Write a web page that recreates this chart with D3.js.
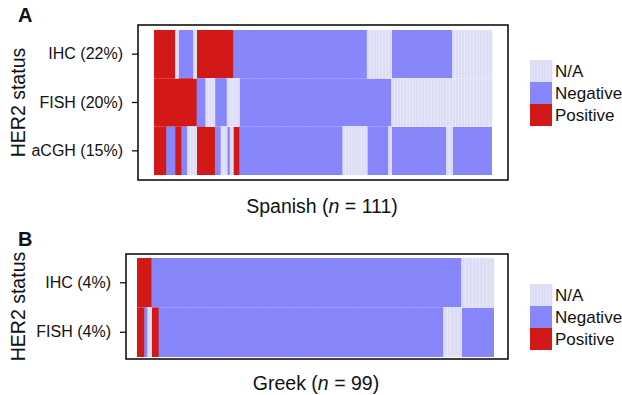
<!DOCTYPE html>
<html>
<head>
<meta charset="utf-8">
<script src="https://cdn.jsdelivr.net/npm/d3@7"></script>
<style>
  body { margin: 0; background: #fff; }
  svg { display: block; }
  text { font-family: "Liberation Sans", Arial, Helvetica, sans-serif; }
</style>
</head>
<body>
<svg id="chart" width="622" height="395"></svg>
<script>
// ---- Data (run-length encoded per sample column; P = Positive, N = Negative, U = N/A) ----
const statusKeys = ["U", "N", "P"];
const legendLabels = ["N/A", "Negative", "Positive"];
const statusColors = ["#dcdcf5", "#8787fb", "#d31818"];

// Panel A: Spanish cohort (n = 111)
const spanishRows = ["IHC", "FISH", "aCGH"];
const spanishTickLabels = ["IHC (22%)", "FISH (20%)", "aCGH (15%)"];
const spanishIHC = [["P",7],["U",1],["N",5],["U",1],["P",12],["N",44],["U",8],["N",20],["U",13]];
const spanishFISH = [["P",14],["N",3],["U",3],["N",4],["U",4],["N",50],["U",33]];
const spanishACGH = [["P",4],["N",3],["P",2],["N",2],["U",3],["P",6],["N",2],["U",2],["N",1],["U",1],["P",2],["N",34],["U",8],["N",7],["U",1],["N",18],["U",2],["N",13]];

// Panel B: Greek cohort (n = 99)
const greekRows = ["IHC", "FISH"];
const greekTickLabels = ["IHC (4%)", "FISH (4%)"];
const greekIHC = [["P",4],["N",86],["U",9]];
const greekFISH = [["P",2],["N",1],["U",1],["P",2],["N",79],["U",5],["N",9]];

// ---- Helpers ----
function expand(runs) {
  const out = [];
  runs.forEach(([code, count]) => { for (let i = 0; i < count; i++) out.push(code); });
  return out;
}

const svg = d3.select("#chart");
const color = d3.scaleOrdinal().domain(statusKeys).range(statusColors);

function panel(cfg) {
  const g = svg.append("g");
  const nCols = cfg.rowsData[0].length;
  const x = d3.scaleBand().domain(d3.range(nCols)).range([cfg.cellX0, cfg.cellX1]).padding(0);
  const y = d3.scaleBand().domain(cfg.rows).range([cfg.cellY0, cfg.cellY1]).padding(0);

  const cells = [];
  cfg.rows.forEach((r, ri) => {
    cfg.rowsData[ri].forEach((code, ci) => cells.push({ row: r, col: ci, code }));
  });

  // solid cells first (slightly widened to avoid seams), N/A cells on top with faint stripes
  const ordered = cells.filter(d => d.code !== "U").concat(cells.filter(d => d.code === "U"));
  g.selectAll("rect.cell").data(ordered).enter().append("rect")
    .attr("class", "cell")
    .attr("x", d => x(d.col))
    .attr("y", d => y(d.row))
    .attr("width", d => d.code === "U" ? x.bandwidth()
      : Math.min(x.bandwidth() + 0.8, cfg.cellX1 - x(d.col)))
    .attr("height", y.bandwidth())
    .attr("fill", d => color(d.code))
    .attr("stroke", d => d.code === "U" ? "#ebebfb" : "none")
    .attr("stroke-width", 0.6);

  // frame
  g.append("rect")
    .attr("x", cfg.boxX0).attr("y", cfg.boxY0)
    .attr("width", cfg.boxX1 - cfg.boxX0).attr("height", cfg.boxY1 - cfg.boxY0)
    .attr("fill", "none").attr("stroke", "#111").attr("stroke-width", 1.6);

  // y axis
  const axis = d3.axisLeft(y).tickSize(6).tickPadding(9)
    .tickFormat((d, i) => cfg.tickLabels[i]);
  const ax = g.append("g").attr("transform", `translate(${cfg.boxX0},0)`).call(axis);
  ax.select(".domain").remove();
  ax.selectAll(".tick line").attr("stroke", "#111").attr("stroke-width", 1.3);
  ax.selectAll(".tick text").attr("font-size", 16).attr("fill", "#111")
    .style("font-family", '"Liberation Sans", Arial, sans-serif');

  // panel letter
  g.append("text").attr("x", 18).attr("y", cfg.letterY)
    .attr("font-size", 20).attr("font-weight", "bold").attr("fill", "#111").text(cfg.letter);

  // y title
  g.append("text")
    .attr("transform", `translate(${25},${(cfg.boxY0 + cfg.boxY1) / 2}) rotate(-90)`)
    .attr("text-anchor", "middle").attr("font-size", 19.5).attr("fill", "#111")
    .text("HER2 status");

  // x title with italic n
  const xt = g.append("text")
    .attr("x", (cfg.boxX0 + cfg.boxX1) / 2 + cfg.titleDx).attr("y", cfg.titleY)
    .attr("text-anchor", "middle").attr("font-size", 19.5).attr("fill", "#111");
  xt.append("tspan").text(cfg.cohort + " (");
  xt.append("tspan").attr("font-style", "italic").text("n");
  xt.append("tspan").text(" = " + cfg.n + ")");

  // legend
  const lg = g.append("g");
  const sw = 22, sh = 22;
  lg.selectAll("rect").data(statusKeys).enter().append("rect")
    .attr("x", cfg.legX).attr("y", (d, i) => cfg.legY + i * sh)
    .attr("width", sw).attr("height", sh)
    .attr("fill", d => color(d))
    .attr("stroke", "none");
  // stripes on N/A swatch
  lg.selectAll("line.stripe").data(d3.range(0, sw, 3)).enter().append("line")
    .attr("x1", d => cfg.legX + d + 1.5).attr("x2", d => cfg.legX + d + 1.5)
    .attr("y1", cfg.legY).attr("y2", cfg.legY + sh)
    .attr("stroke", "#ebebfb").attr("stroke-width", 0.6);
  lg.selectAll("text").data(legendLabels).enter().append("text")
    .attr("x", cfg.legX + sw + 3).attr("y", (d, i) => cfg.legY + i * sh + sh / 2 + 6)
    .attr("font-size", 17).attr("fill", "#111").text(d => d);
}

panel({
  letter: "A", letterY: 22,
  rows: spanishRows, tickLabels: spanishTickLabels,
  rowsData: [expand(spanishIHC), expand(spanishFISH), expand(spanishACGH)],
  cellX0: 154, cellX1: 492, cellY0: 30, cellY1: 175,
  boxX0: 138, boxX1: 508, boxY0: 25, boxY1: 180,
  cohort: "Spanish", n: 111, titleY: 213, titleDx: -1,
  legX: 530, legY: 60
});

panel({
  letter: "B", letterY: 246,
  rows: greekRows, tickLabels: greekTickLabels,
  rowsData: [expand(greekIHC), expand(greekFISH)],
  cellX0: 137, cellX1: 494, cellY0: 258, cellY1: 357,
  boxX0: 126, boxX1: 508, boxY0: 254, boxY1: 359,
  cohort: "Greek", n: 99, titleY: 390, titleDx: -1,
  legX: 530, legY: 284
});
</script>
</body>
</html>
